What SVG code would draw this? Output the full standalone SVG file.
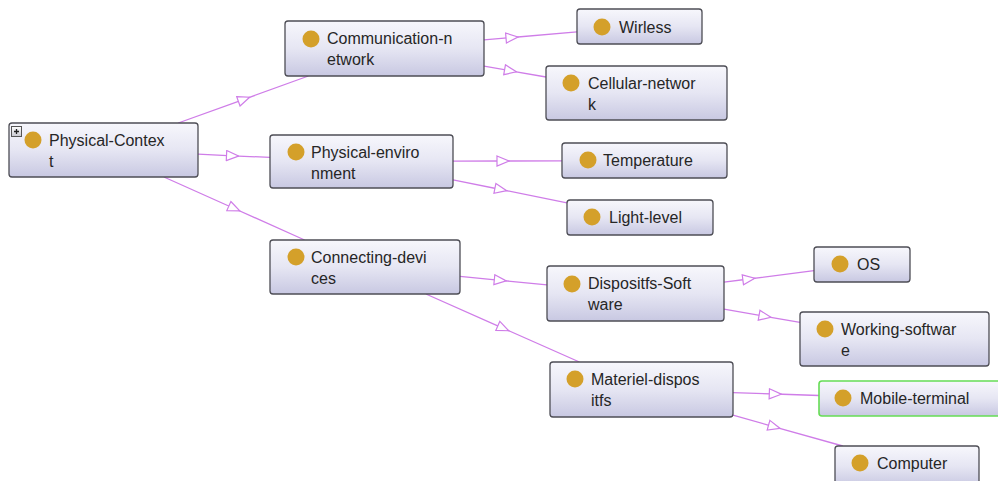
<svg xmlns="http://www.w3.org/2000/svg" width="998" height="481" viewBox="0 0 998 481">
  <defs>
    <linearGradient id="nodeFill" x1="0" y1="0" x2="0" y2="1">
      <stop offset="0" stop-color="#f7f7fc"/>
      <stop offset="0.5" stop-color="#e6e6f3"/>
      <stop offset="1" stop-color="#c8c8e2"/>
    </linearGradient>
    <linearGradient id="iconFill" x1="0" y1="0" x2="0" y2="1">
      <stop offset="0" stop-color="#ffffff"/>
      <stop offset="1" stop-color="#c8c8d0"/>
    </linearGradient>
    <marker id="hollowArrow" viewBox="-7 -6 14 12" refX="0" refY="0" markerWidth="14" markerHeight="12" markerUnits="userSpaceOnUse" orient="auto">
      <path d="M-6,-5 L6,0 L-6,5 Z" fill="#ffffff" stroke="#cf7de8" stroke-width="1.2" stroke-linejoin="miter"/>
    </marker>
  </defs>
  <style>
    .box { fill: url(#nodeFill); stroke: #4d4d55; stroke-width: 1.3; }
    .box.sel { stroke: #66dd55; stroke-width: 1.6; }
    .dot { fill: #d4a02a; }
    .lbl { font-family: "Liberation Sans", Arial, sans-serif; font-size: 16px; fill: #262626; }
    .edge { fill: none; stroke: #cf7de8; stroke-width: 1.3; marker-mid: url(#hollowArrow); }
  </style>

  <rect width="998" height="481" fill="#ffffff"/>

  <!-- connectors: drawn from box edge to box edge, arrow at the centre-to-centre midpoint -->
  <g id="connectors">
    <path class="edge" d="M178.2,123 L244,99.3 L308.4,76"/>
    <path class="edge" d="M198,154.2 L232.5,155.8 L270,157.4"/>
    <path class="edge" d="M163.9,177 L234.3,208.5 L304.6,240"/>
    <path class="edge" d="M484,39.9 L512,37.5 L577,31.9"/>
    <path class="edge" d="M484,66.1 L510.5,70.8 L546,77"/>
    <path class="edge" d="M453,161.2 L503,161 L562,160.8"/>
    <path class="edge" d="M453,179.9 L500.8,189.5 L567,202.8"/>
    <path class="edge" d="M460,276.3 L500.3,280.3 L547,284.8"/>
    <path class="edge" d="M425.9,294 L503.3,328.3 L579.4,362"/>
    <path class="edge" d="M724,282.2 L748.8,279 L814,270.7"/>
    <path class="edge" d="M724,309.1 L765,316.3 L800,322.4"/>
    <path class="edge" d="M733,392.6 L775.3,394 L819,395.5"/>
    <path class="edge" d="M733,415.2 L774.3,426.8 L842.8,446"/>
  </g>

  <g id="physical-context">
    <rect class="box" x="9" y="123" width="189" height="54" rx="3"/>
    <rect x="11.5" y="126.5" width="10" height="10" fill="url(#iconFill)" stroke="#555" stroke-width="1"/>
    <path d="M14,131.5 H19 M16.5,129 V134" stroke="#222" stroke-width="1.3"/>
    <circle class="dot" cx="33" cy="140" r="8.5"/>
    <text class="lbl" x="49" y="146">Physical-Contex</text>
    <text class="lbl" x="49" y="167">t</text>
  </g>

  <g id="communication-network">
    <rect class="box" x="285" y="21" width="199" height="55" rx="3"/>
    <circle class="dot" cx="311" cy="39" r="8.5"/>
    <text class="lbl" x="327" y="44">Communication-n</text>
    <text class="lbl" x="327" y="65">etwork</text>
  </g>

  <g id="wirless">
    <rect class="box" x="577" y="9" width="125" height="35" rx="3"/>
    <circle class="dot" cx="602" cy="27" r="8.5"/>
    <text class="lbl" x="619" y="32.5">Wirless</text>
  </g>

  <g id="cellular-network">
    <rect class="box" x="546" y="66" width="181" height="54" rx="3"/>
    <circle class="dot" cx="571" cy="83" r="8.5"/>
    <text class="lbl" x="588" y="89">Cellular-networ</text>
    <text class="lbl" x="588" y="110">k</text>
  </g>

  <g id="physical-environment">
    <rect class="box" x="270" y="135" width="183" height="53" rx="3"/>
    <circle class="dot" cx="296" cy="152" r="8.5"/>
    <text class="lbl" x="311" y="158">Physical-enviro</text>
    <text class="lbl" x="311" y="179">nment</text>
  </g>

  <g id="temperature">
    <rect class="box" x="562" y="143" width="165" height="35" rx="3"/>
    <circle class="dot" cx="588" cy="160" r="8.5"/>
    <text class="lbl" x="603" y="166">Temperature</text>
  </g>

  <g id="light-level">
    <rect class="box" x="567" y="200" width="146" height="35" rx="3"/>
    <circle class="dot" cx="592" cy="217" r="8.5"/>
    <text class="lbl" x="609" y="223">Light-level</text>
  </g>

  <g id="connecting-devices">
    <rect class="box" x="270" y="240" width="190" height="54" rx="3"/>
    <circle class="dot" cx="296" cy="257" r="8.5"/>
    <text class="lbl" x="311" y="263">Connecting-devi</text>
    <text class="lbl" x="311" y="284">ces</text>
  </g>

  <g id="dispositifs-software">
    <rect class="box" x="547" y="266" width="177" height="55" rx="3"/>
    <circle class="dot" cx="572" cy="284" r="8.5"/>
    <text class="lbl" x="588" y="289">Dispositfs-Soft</text>
    <text class="lbl" x="588" y="310">ware</text>
  </g>

  <g id="os">
    <rect class="box" x="814" y="247" width="96" height="35" rx="3"/>
    <circle class="dot" cx="840" cy="264" r="8.5"/>
    <text class="lbl" x="857" y="270">OS</text>
  </g>

  <g id="working-software">
    <rect class="box" x="800" y="312" width="189" height="54" rx="3"/>
    <circle class="dot" cx="825" cy="329" r="8.5"/>
    <text class="lbl" x="841" y="335">Working-softwar</text>
    <text class="lbl" x="841" y="356">e</text>
  </g>

  <g id="materiel-dispositifs">
    <rect class="box" x="550" y="362" width="183" height="55" rx="3"/>
    <circle class="dot" cx="575" cy="379" r="8.5"/>
    <text class="lbl" x="591" y="385">Materiel-dispos</text>
    <text class="lbl" x="591" y="406">itfs</text>
  </g>

  <g id="mobile-terminal">
    <rect class="box sel" x="819" y="381" width="190" height="35" rx="3"/>
    <circle class="dot" cx="843" cy="398" r="8.5"/>
    <text class="lbl" x="860" y="404">Mobile-terminal</text>
  </g>

  <g id="computer">
    <rect class="box" x="835" y="446" width="144" height="40" rx="3"/>
    <circle class="dot" cx="860" cy="463" r="8.5"/>
    <text class="lbl" x="877" y="469">Computer</text>
  </g>
</svg>
